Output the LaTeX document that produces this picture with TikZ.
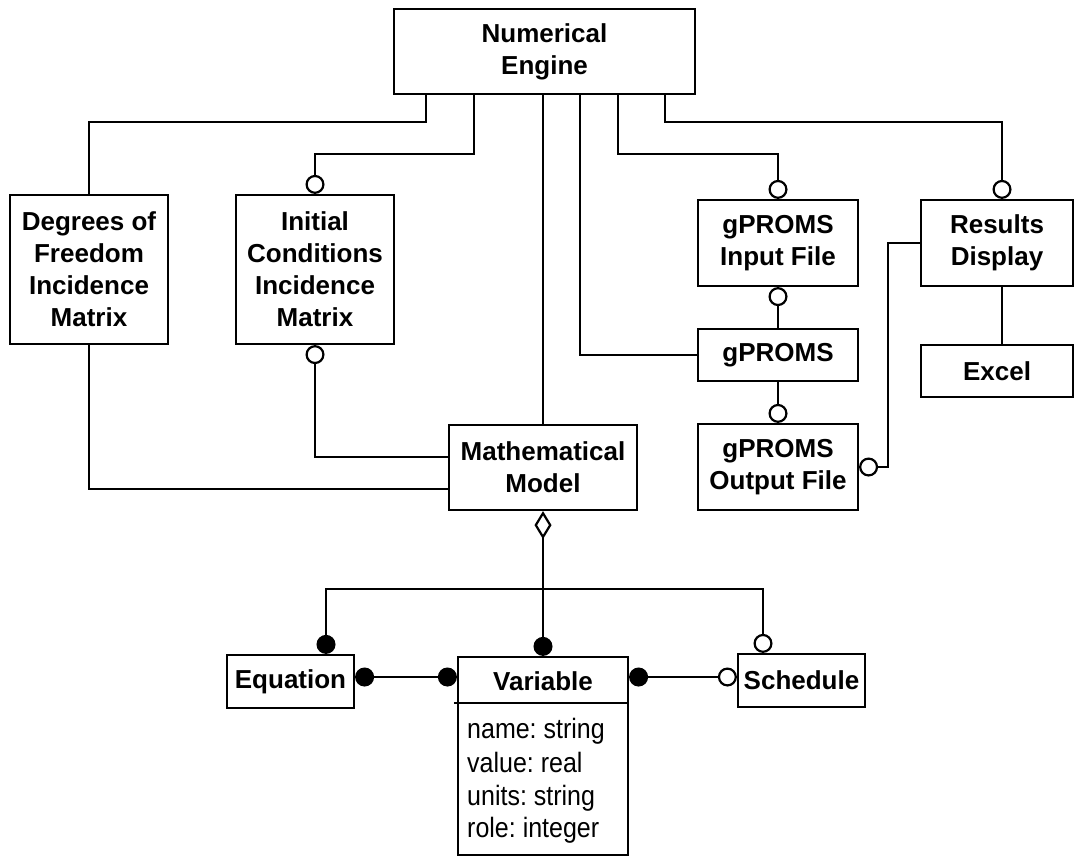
\documentclass[tikz,border=0pt]{standalone}
\usepackage{fontspec}
\setmainfont{Liberation Sans}
\usetikzlibrary{arrows.meta,calc}
\frenchspacing
\tikzset{
  oc/.tip={Circle[open,length=19pt,width=19pt,fill=white]},
  fc/.tip={Circle[length=19pt,width=19pt]},
  od/.tip={Diamond[open,length=28pt,width=17pt,fill=white]},
  box/.style={draw,line width=2.2pt,align=center,inner sep=0pt,
    font=\fontsize{26}{32}\selectfont\bfseries},
  conn/.style={line width=2.2pt},
  attr/.style={anchor=base west,inner sep=0pt,font=\fontsize{25}{30}\selectfont},
}
\newcommand{\tallattr}[1]{\scalebox{1}[1.12]{#1}}
\begin{document}
\begin{tikzpicture}[x=1pt,y=-1pt]
\useasboundingbox (0,0) rectangle (1076,857);
\fill[white] (0,0) rectangle (1076,857);

% boxes
\node[box,minimum width=301pt,minimum height=85pt] (NE) at (544.5,51.5) {Numerical\\Engine};
\node[box,minimum width=158pt,minimum height=149pt] (DOF) at (89,269.5) {Degrees of\\Freedom\\Incidence\\Matrix};
\node[box,minimum width=158pt,minimum height=149pt] (ICIM) at (315,269.5) {Initial\\Conditions\\Incidence\\Matrix};
\node[box,minimum width=160pt,minimum height=86pt] (IN) at (778,243) {gPROMS\\Input File};
\node[box,minimum width=152pt,minimum height=86pt] (RD) at (997,243) {Results\\Display};
\node[box,minimum width=160pt,minimum height=52pt] (G) at (778,355) {gPROMS};
\node[box,minimum width=160pt,minimum height=86pt] (OUT) at (778,467) {gPROMS\\Output File};
\node[box,minimum width=152pt,minimum height=52pt] (EX) at (997,371) {Excel};
\node[box,minimum width=188pt,minimum height=85pt] (MM) at (543,467.5) {Mathematical\\Model};
\node[box,minimum width=127pt,minimum height=53pt] (EQ) at (290.5,681.5) {Equation};
\node[box,minimum width=127pt,minimum height=53pt] (SCH) at (801.5,680.5) {Schedule};
\node[draw,line width=2.2pt,minimum width=170pt,minimum height=198pt,inner sep=0pt] (VAR) at (543,756) {};
\node[box,draw=none] (VART) at ($(VAR.north)+(0,25)$) {Variable};
\draw[conn] ($(VAR.north west)+(-3,47)$) -- ($(VAR.north east)+(0,47)$);
\node[attr] (a1) at (467,738) {\tallattr{name: string}};
\node[attr] (a2) at (467,772) {\tallattr{value: real}};
\node[attr] (a3) at (467,805) {\tallattr{units: string}};
\node[attr] (a4) at (467,837) {\tallattr{role: integer}};

% connectors from Numerical Engine
\draw[conn] ([xshift=-118.5pt]NE.south) -- ++(0,27) -| (DOF.north);
\draw[conn,-oc] ([xshift=-70.5pt]NE.south) -- ++(0,59) -| (ICIM.north);
\draw[conn] (MM.north |- NE.south) -- (MM.north);
\draw[conn] ([xshift=35.5pt]NE.south) |- (G.west);
\draw[conn,-oc] ([xshift=73.5pt]NE.south) -- ++(0,59) -| (IN.north);
\draw[conn,-oc] ([xshift=120.5pt]NE.south) -- ++(0,27) -| ([xshift=5pt]RD.north);

% gPROMS chain
\draw[conn,-oc] (G.north) -- (IN.south);
\draw[conn,-oc] (G.south) -- (OUT.north);
\draw[conn,-oc] (RD.west) -- ++(-32,0) |- (OUT.east);
\draw[conn] ([xshift=5pt]RD.south) -- ([xshift=5pt]EX.north);

% incidence matrices to model
\draw[conn] (DOF.south) |- ([yshift=-21.5pt]MM.west);
\draw[conn,-oc] ([yshift=10.5pt]MM.west) -| (ICIM.south);

% model aggregation
\draw[conn,od-fc] (MM.south) -- (VAR.north);
\coordinate (br) at (543,589);
\draw[conn,-fc] (br) -| ([xshift=35.5pt]EQ.north);
\draw[conn,-oc] (br) -| ([xshift=-38.5pt]SCH.north);

% associations
\coordinate (ev) at ([yshift=4.5pt]EQ.east);
\draw[conn,fc-fc] (ev) -- (ev -| VAR.west);
\coordinate (vs) at (ev -| VAR.east);
\draw[conn,fc-oc] (vs) -- (vs -| SCH.west);
\end{tikzpicture}
\end{document}
